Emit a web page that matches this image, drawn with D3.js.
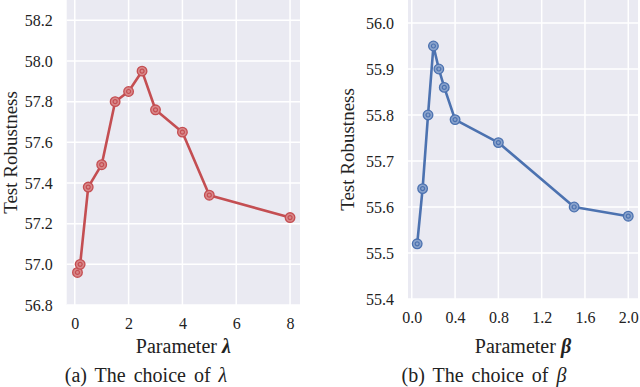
<!DOCTYPE html>
<html>
<head>
<meta charset="utf-8">
<script src="https://cdn.jsdelivr.net/npm/d3@7"></script>
<style>
  body { margin: 0; background: #fff; }
  text { font-family: "Liberation Serif", "Times New Roman", serif; fill: #222; }
</style>
</head>
<body>
<script>
// data
var lambdaX = [0.1, 0.2, 0.5, 1, 1.5, 2, 2.5, 3, 4, 5, 8];
var lambdaY = [56.96, 57.00, 57.38, 57.49, 57.80, 57.85, 57.95, 57.76, 57.65, 57.34, 57.23];
var betaX = [0.05, 0.1, 0.15, 0.2, 0.25, 0.3, 0.4, 0.8, 1.5, 2.0];
var betaY = [55.52, 55.64, 55.80, 55.95, 55.90, 55.86, 55.79, 55.74, 55.60, 55.58];

var lambdaXTicks = [0, 2, 4, 6, 8];
var lambdaYTicks = [56.8, 57.0, 57.2, 57.4, 57.6, 57.8, 58.0, 58.2];
var betaXTicks = [0.0, 0.4, 0.8, 1.2, 1.6, 2.0];
var betaYTicks = [55.4, 55.5, 55.6, 55.7, 55.8, 55.9, 56.0];

var w = 640, h = 387;
var svg = d3.select("body").append("svg")
    .attr("width", w)
    .attr("height", h);

// one panel = one subplot
function panel(opt) {
    var x = d3.scaleLinear().domain(opt.xDomain).range([opt.left, opt.right]);
    var y = d3.scaleLinear().domain(opt.yDomain).range([opt.bottom, opt.top]);
    var g = svg.append("g");

    // background
    g.append("rect")
        .attr("x", opt.left).attr("y", opt.top)
        .attr("width", opt.right - opt.left).attr("height", opt.bottom - opt.top)
        .style("fill", "#EAEAF2");

    // grid
    g.selectAll(".vgrid").data(opt.xTicks).enter().append("line")
        .attr("x1", function(d){ return x(d); }).attr("x2", function(d){ return x(d); })
        .attr("y1", opt.top).attr("y2", opt.bottom)
        .style("stroke", "#fff").style("stroke-width", 1.5);
    g.selectAll(".hgrid").data(opt.yTicks).enter().append("line")
        .attr("x1", opt.left).attr("x2", opt.right)
        .attr("y1", function(d){ return y(d); }).attr("y2", function(d){ return y(d); })
        .style("stroke", "#fff").style("stroke-width", 1.5);

    // axes (no domain line, no tick marks, just labels)
    var xAxis = d3.axisBottom(x).tickValues(opt.xTicks).tickFormat(opt.xFormat).tickSize(0).tickPadding(13);
    var yAxis = d3.axisLeft(y).tickValues(opt.yTicks).tickFormat(opt.yFormat).tickSize(0).tickPadding(14);
    var ax = g.append("g").attr("transform", "translate(0," + opt.bottom + ")").call(xAxis);
    var ay = g.append("g").attr("transform", "translate(" + opt.left + ",0)").call(yAxis);
    ax.select(".domain").remove();
    ay.select(".domain").remove();
    ax.selectAll("text").style("font-size", "16px").style("font-family", "Liberation Serif").style("fill", "#222");
    ay.selectAll("text").style("font-size", "16px").style("font-family", "Liberation Serif").style("fill", "#222");

    // line
    var pts = opt.xs.map(function(d, i){ return [d, opt.ys[i]]; });
    var line = d3.line().x(function(d){ return x(d[0]); }).y(function(d){ return y(d[1]); });
    g.append("path").datum(pts)
        .attr("d", line)
        .style("fill", "none").style("stroke", opt.color).style("stroke-width", 2.6)
        .style("stroke-linejoin", "round");

    // markers: double ring
    var m = g.selectAll(".marker").data(pts).enter().append("g")
        .attr("transform", function(d){ return "translate(" + x(d[0]) + "," + y(d[1]) + ")"; });
    m.append("circle").attr("r", 4.8)
        .style("fill", opt.light).style("stroke", opt.color).style("stroke-width", 1.3);
    m.append("circle").attr("r", 2)
        .style("fill", "none").style("stroke", opt.color).style("stroke-width", 1.2);

    // y label
    svg.append("text")
        .attr("transform", "translate(" + opt.ylabX + "," + ((opt.top + opt.bottom) / 2) + ") rotate(-90)")
        .attr("text-anchor", "middle")
        .style("font-size", "19px")
        .text("Test Robustness");

    // x label
    var xl = svg.append("text")
        .attr("x", (opt.left + opt.right) / 2).attr("y", 353)
        .attr("text-anchor", "middle")
        .style("font-size", "20px");
    xl.append("tspan").text("Parameter ");
    xl.append("tspan").style("font-weight", "bold").style("font-style", "italic").text(opt.sym);

    // caption
    var cap = svg.append("text")
        .attr("x", opt.capX).attr("y", 382)
        .attr("text-anchor", "middle")
        .style("font-size", "20px")
        .style("word-spacing", "3px");
    cap.append("tspan").text(opt.cap + " ");
    cap.append("tspan").style("font-style", "italic").text(opt.sym);
}

panel({
    xs: lambdaX, ys: lambdaY,
    xTicks: lambdaXTicks, yTicks: lambdaYTicks,
    xFormat: d3.format("d"), yFormat: d3.format(".1f"),
    xDomain: [-0.3, 8.37], yDomain: [56.8, 58.3],
    left: 66.7, right: 300, top: 0, bottom: 305,
    color: "#C44E52", light: "#D9888A",
    ylabX: 17, sym: "\u03BB", cap: "(a) The choice of", capX: 146
});

panel({
    xs: betaX, ys: betaY,
    xTicks: betaXTicks, yTicks: betaYTicks,
    xFormat: d3.format(".1f"), yFormat: d3.format(".1f"),
    xDomain: [-0.035, 2.09], yDomain: [55.4, 56.05],
    left: 408, right: 638, top: 0, bottom: 299,
    color: "#4C72B0", light: "#8AA3CC",
    ylabX: 354, sym: "\u03B2", cap: "(b) The choice of", capX: 484
});
</script>
</body>
</html>
